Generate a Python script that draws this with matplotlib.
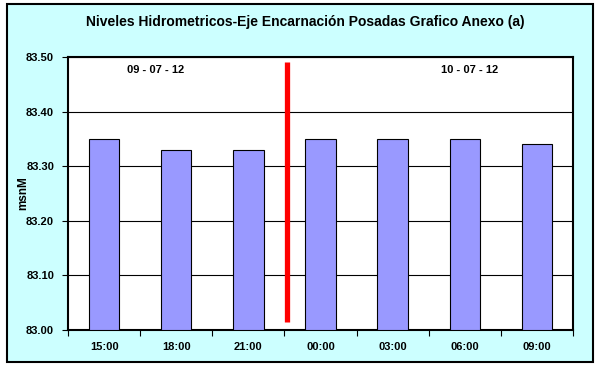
import matplotlib
matplotlib.use('agg')
import matplotlib.pyplot as plt
from matplotlib.patches import Rectangle

# Datos
horas = ['15:00', '18:00', '21:00', '00:00', '03:00', '06:00', '09:00']
niveles = [83.35, 83.33, 83.33, 83.35, 83.35, 83.35, 83.34]
fechas = ['09 - 07 - 12', '10 - 07 - 12']
y_ticks = [83.00, 83.10, 83.20, 83.30, 83.40, 83.50]

plt.rcParams['font.family'] = ['Liberation Sans', 'DejaVu Sans']

fig = plt.figure(figsize=(5.98, 3.67), dpi=100)
fondo = Rectangle((7 / 598, 1 - 362 / 367), (593 - 7) / 598, (362 - 4) / 367,
                  transform=fig.transFigure, facecolor='#CCFFFF',
                  edgecolor='black', linewidth=1.5, zorder=-10)
fig.patches.append(fondo)

ax = fig.add_axes([68 / 598, 1 - 330 / 367, (573 - 68) / 598, (330 - 57) / 367])
ax.set_facecolor('white')

x = range(len(horas))
ax.bar(x, [v - 83.0 for v in niveles], bottom=83.0, width=0.42,
       color='#9999FF', edgecolor='black', linewidth=0.8, zorder=3)

ax.set_xlim(-0.5, len(horas) - 0.5)
ax.set_ylim(83.0, 83.5)
ax.set_yticks(y_ticks)
ax.set_yticklabels([f'{t:.2f}' for t in y_ticks], fontsize=8, fontweight='bold')
ax.yaxis.grid(True, color='black', linewidth=0.8, zorder=1)
ax.set_axisbelow(True)

ax.set_xticks(list(x))
ax.set_xticklabels(horas, fontsize=8, fontweight='bold')
ax.set_xticks([i + 0.5 for i in range(-1, len(horas))], minor=True)
ax.tick_params(axis='x', which='major', length=0, pad=9)
ax.tick_params(axis='x', which='minor', length=4, width=0.8, direction='out')
ax.tick_params(axis='y', length=4, width=0.8, direction='out', pad=6)

for s in ax.spines.values():
    s.set_linewidth(1.5)

# Linea de cambio de dia
ax.plot([2.53, 2.53], [83.015, 83.49], color='red', linewidth=3.8, zorder=4,
        solid_capstyle='butt')

ax.text(0.71, 83.476, fechas[0], fontsize=8, fontweight='bold', ha='center', va='center')
ax.text(5.07, 83.476, fechas[1], fontsize=8, fontweight='bold', ha='center', va='center')

ax.set_ylabel('msnM', fontsize=8.5, fontweight='bold', labelpad=-2)
fig.text(305 / 598, 1 - 22 / 367, 'Niveles Hidrometricos-Eje Encarnación Posadas Grafico Anexo (a)',
         fontsize=10, fontweight='bold', ha='center', va='center')

plt.savefig('out.png', dpi=100)
